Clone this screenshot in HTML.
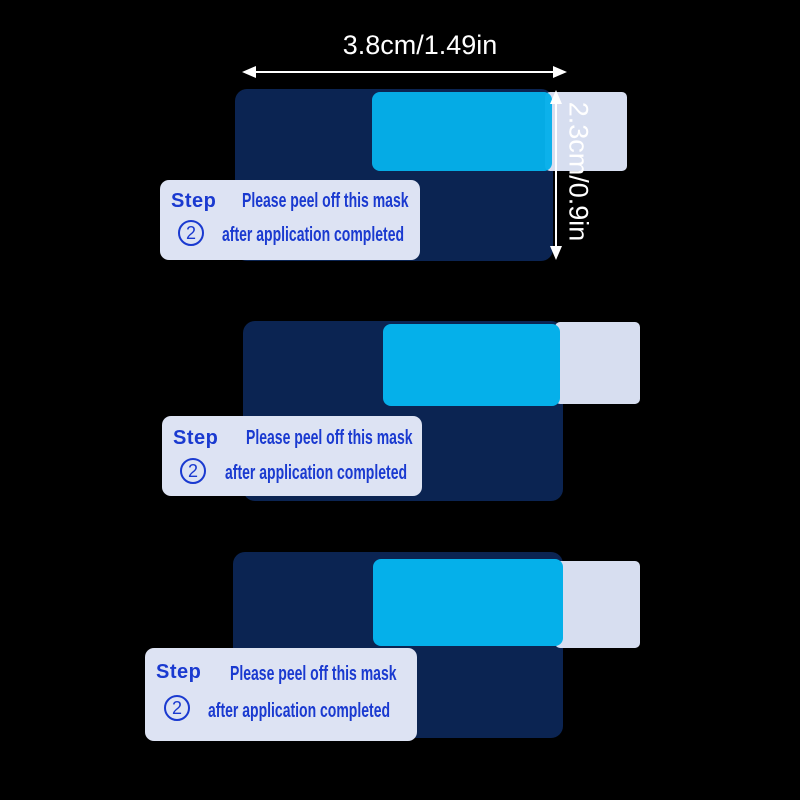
<!DOCTYPE html>
<html><head><meta charset="utf-8"><style>
body{margin:0;width:800px;height:800px;background:#000;position:relative;overflow:hidden;font-family:"Liberation Sans",sans-serif}
div{position:absolute;box-sizing:border-box}
.d{background:#0b2452;border-radius:12px}
.l{background:#05b0ea;border-radius:8px}
.t{background:#d7def0;border-radius:5px}
.lab{background:#dde3f3;border-radius:9px}
.step{color:#1a3ad0;font-weight:bold;font-size:20px;letter-spacing:0.5px}
.c{color:#1a3ad0;font-size:20px;white-space:nowrap;transform-origin:0 0;transform:scaleX(0.7);font-weight:bold}
.n{color:#1a3ad0;border:2px solid #1a3ad0;border-radius:50%;width:26px;height:26px;font-size:18px;text-align:center;line-height:22px}
</style></head><body>
<div style="left:320px;width:200px;top:30px;text-align:center;color:#fff;font-size:27px;">3.8cm/1.49in</div>
<div style="left:250px;top:71px;width:306px;height:2px;background:#fff"></div>
<div style="left:242px;top:66px;width:0;height:0;border-top:6px solid transparent;border-bottom:6px solid transparent;border-right:14px solid #fff"></div>
<div style="left:553px;top:66px;width:0;height:0;border-top:6px solid transparent;border-bottom:6px solid transparent;border-left:14px solid #fff"></div>

<div class="d" style="left:235px;top:89px;width:318px;height:172px"></div>
<div class="t" style="left:545px;top:92px;width:82px;height:79px"></div>
<div class="l" style="left:372px;top:92px;width:180px;height:79px;opacity:.97"></div>
<div class="lab" style="left:160px;top:180px;width:260px;height:80px"></div>
<div class="step" style="left:171px;top:190px">Step</div>
<div class="c" style="left:242px;top:190px">Please peel off this mask</div>
<div class="n" style="left:178px;top:220px">2</div>
<div class="c" style="left:222px;top:224px">after application completed</div>

<div style="left:555px;top:100px;width:2px;height:150px;background:#fff"></div>
<div style="left:550px;top:90px;width:0;height:0;border-left:6px solid transparent;border-right:6px solid transparent;border-bottom:14px solid #fff"></div>
<div style="left:550px;top:246px;width:0;height:0;border-left:6px solid transparent;border-right:6px solid transparent;border-top:14px solid #fff"></div>
<div style="left:488px;top:156px;width:180px;text-align:center;color:#fff;font-size:27px;transform:rotate(90deg)">2.3cm/0.9in</div>

<div class="d" style="left:243px;top:321px;width:320px;height:180px"></div>
<div class="t" style="left:555px;top:322px;width:85px;height:82px"></div>
<div class="l" style="left:383px;top:324px;width:177px;height:82px"></div>
<div class="lab" style="left:162px;top:416px;width:260px;height:80px"></div>
<div class="step" style="left:173px;top:427px">Step</div>
<div class="c" style="left:246px;top:427px">Please peel off this mask</div>
<div class="n" style="left:180px;top:458px">2</div>
<div class="c" style="left:225px;top:462px">after application completed</div>

<div class="d" style="left:233px;top:552px;width:330px;height:186px"></div>
<div class="t" style="left:555px;top:561px;width:85px;height:87px"></div>
<div class="l" style="left:373px;top:559px;width:190px;height:87px"></div>
<div class="lab" style="left:145px;top:648px;width:272px;height:93px"></div>
<div class="step" style="left:156px;top:661px">Step</div>
<div class="c" style="left:230px;top:663px">Please peel off this mask</div>
<div class="n" style="left:164px;top:695px">2</div>
<div class="c" style="left:208px;top:700px">after application completed</div>
</body></html>
